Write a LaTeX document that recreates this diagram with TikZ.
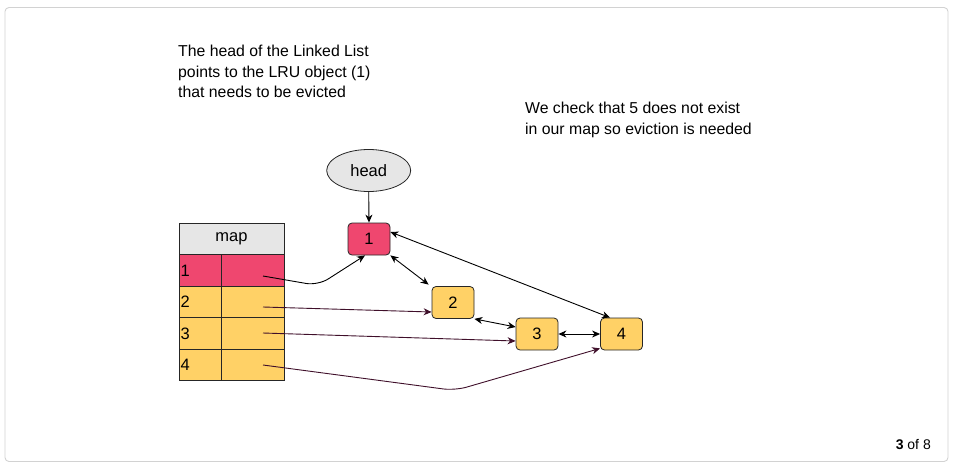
\documentclass[tikz,border=0pt]{standalone}
\usepackage{fontspec}
\setmainfont{Liberation Sans}
\usetikzlibrary{arrows.meta,shapes.geometric,calc}
\definecolor{pinkred}{HTML}{EF476F}
\definecolor{sunny}{HTML}{FFD166}
\definecolor{lightgr}{HTML}{E6E6E6}
\definecolor{maroon}{HTML}{3F0F2A}
\definecolor{framegr}{HTML}{D2D2D2}
\tikzset{
  tip/.style={-{Stealth[length=8pt,width=7pt,inset=2.5pt]}},
  dtip/.style={{Stealth[length=8pt,width=7pt,inset=2.5pt]}-{Stealth[length=8pt,width=7pt,inset=2.5pt]}},
  conn/.style={line width=0.9pt},
  listbox/.style={draw=black!85, line width=0.8pt, rounded corners=4pt, minimum width=42pt, minimum height=32pt, inner sep=0pt, font=\fontsize{16.5}{19}\selectfont},
  cellbox/.style={draw=black!85, line width=0.9pt, minimum height=31.5pt, inner sep=0pt},
  keytext/.style={font=\fontsize{16.5}{19}\selectfont},
  note/.style={align=left, anchor=north west, inner sep=0pt, font=\fontsize{15.8}{20.5}\selectfont}
}
\begin{document}
\begin{tikzpicture}[x=1pt,y=-1pt]
\useasboundingbox (0,0) rectangle (956,466);
\draw[framegr, line width=0.9pt, rounded corners=4pt] (5,7.5) rectangle (948,461.5);

% notes
\node[note] (t1) at (178,45) {The head of the Linked List\\points to the LRU object (1)\\that needs to be evicted};
\node[note] (t2) at (525,102) {We check that 5 does not exist\\in our map so eviction is needed};
\node[anchor=base east, inner sep=0pt, font=\fontsize{14}{16}\selectfont] (pg) at (931,449) {\textbf{3} of 8};

% map table
\node[cellbox, fill=lightgr, minimum width=105pt, minimum height=32pt, font=\fontsize{16.5}{19}\selectfont] (hdr) at (231.5,239) {map};
\node[cellbox, fill=pinkred, minimum width=42pt] (k1) at (200,270.5) {};
\node[cellbox, fill=pinkred, minimum width=63pt] (c1) at (252.5,270.5) {};
\node[cellbox, fill=sunny, minimum width=42pt] (k2) at (200,302) {};
\node[cellbox, fill=sunny, minimum width=63pt] (c2) at (252.5,302) {};
\node[cellbox, fill=sunny, minimum width=42pt] (k3) at (200,333.5) {};
\node[cellbox, fill=sunny, minimum width=63pt] (c3) at (252.5,333.5) {};
\node[cellbox, fill=sunny, minimum width=42pt] (k4) at (200,365) {};
\node[cellbox, fill=sunny, minimum width=63pt] (c4) at (252.5,365) {};
\draw[black!85, line width=1.8pt] (k1.north east) -- (k4.south east);
\node[keytext, anchor=west, inner sep=0pt] (l1) at (180.5,270.5) {1};
\node[keytext, anchor=west, inner sep=0pt] (l2) at (180.5,302) {2};
\node[keytext, anchor=west, inner sep=0pt] (l3) at (180.5,333.5) {3};
\node[keytext, anchor=west, inner sep=0pt] (l4) at (180.5,365) {4};
\coordinate (v1) at (263,276);
\coordinate (v2) at (263,307);
\coordinate (v3) at (263,333);
\coordinate (v4) at (263,365);

% list nodes
\node[ellipse, draw=black!85, line width=0.8pt, fill=lightgr, minimum width=84pt, minimum height=42pt, font=\fontsize{16.5}{19}\selectfont] (head) at (368.7,170.5) {head};
\node[listbox, fill=pinkred] (n1) at (369,239) {1};
\node[listbox, fill=sunny] (n2) at (453,302.5) {2};
\node[listbox, fill=sunny] (n3) at (537,334) {3};
\node[listbox, fill=sunny] (n4) at (621.5,334) {4};

% connectors
\draw[conn, tip] (head.south) -- (n1.north);
\draw[conn, dtip] (n1.south east) -- ([xshift=-3pt,yshift=1.5pt]n2.north west);
\draw[conn, dtip] ([yshift=7pt]n1.east) -- ([xshift=-11.5pt]n4.north);
\draw[conn, dtip] (n2.south east) -- ([yshift=7pt]n3.west);
\draw[conn, dtip] (n3.east) -- (n4.west);

\draw[conn, tip, rounded corners=12pt] (v1) -- (318,285.5) -- ([xshift=-4pt]n1.south);
\draw[conn, tip, maroon] (v2) -- ([yshift=-9.5pt]n2.west);
\draw[conn, tip, maroon] (v3) -- ([yshift=-7pt]n3.west);
\draw[conn, tip, maroon, rounded corners=12pt] (v4) -- (455,390.5) -- ([yshift=2pt]n4.south west);
\end{tikzpicture}
\end{document}
